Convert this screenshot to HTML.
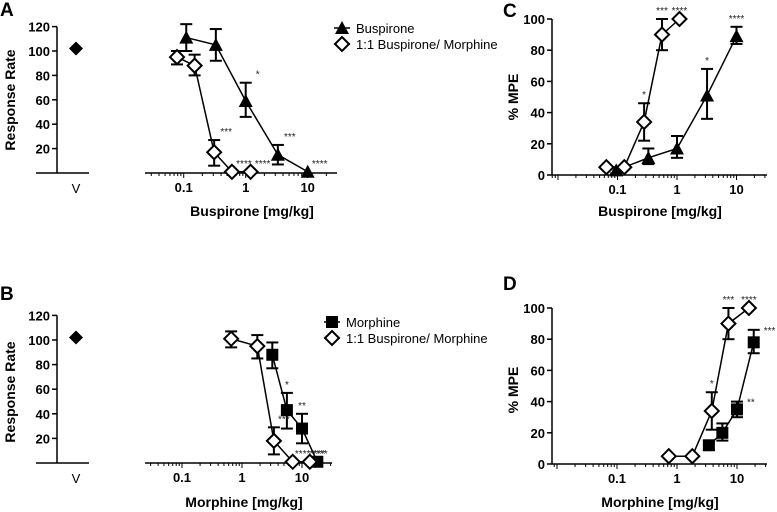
<!DOCTYPE html>
<html><head><meta charset="utf-8"><style>
html,body{margin:0;padding:0;background:#fff;}
svg{display:block;font-family:"Liberation Sans",Arial,sans-serif;}
.tick{font-size:13px;font-weight:bold;}
.title{font-size:14px;font-weight:bold;}
.star{font-size:10px;fill:#222;}
.leg{font-size:13px;}
</style></head><body>
<svg id="c" width="777" height="512" viewBox="0 0 777 512"></svg>
<script>
// ---------- data ----------
// Panel A
const aTriX=[0.11,0.33,1,3.3,10];
const aTriY=[111,105,59,15,1];
const aTriHi=[122,118,74,23,1];
const aTriLo=[100,92,46,7,1];
const aTriStars=["","","*","***","****"];
const aDiaX=[0.078,0.15,0.31,0.6,1.2];
const aDiaY=[95,88,17,1,1];
const aDiaHi=[100,97,27,1,1];
const aDiaLo=[89,80,6,1,1];
const aDiaStars=["","","***","****","****"];
const aVeh=[102];
// Panel B
const bSqX=[3.2,5.6,10,18];
const bSqY=[88,43,28,1];
const bSqHi=[98,57,40,1];
const bSqLo=[77,28,16,1];
const bSqStars=["","*","**","****"];
const bDiaX=[0.66,1.8,3.4,7,13.5];
const bDiaY=[101,95,18,1,1];
const bDiaHi=[107,104,29,1,1];
const bDiaLo=[94,85,7,1,1];
const bDiaStars=["","","***","****","****"];
const bVeh=[102];
// Panel C
const cTriX=[0.095,0.33,1,3.2,10];
const cTriY=[3,11,17,51,89];
const cTriHi=[5,17,25,68,95];
const cTriLo=[1,7,11,36,84];
const cTriStars=["","","","*","****"];
const cDiaX=[0.065,0.13,0.28,0.56,1.1];
const cDiaY=[5,5,34,90,100];
const cDiaHi=[5,5,46,100,100];
const cDiaLo=[5,5,22,80,100];
const cDiaStars=["","","*","***","****"];
// Panel D
const dSqX=[3.4,5.7,10,19];
const dSqY=[12,20,35,78];
const dSqHi=[15,26,40,86];
const dSqLo=[9,15,30,71];
const dSqStars=["","","**","***"];
const dDiaX=[0.73,1.8,3.8,7.2,15.8];
const dDiaY=[5,5,34,90,100];
const dDiaHi=[5,5,46,100,100];
const dDiaLo=[5,5,22,80,100];
const dDiaStars=["","","*","***","****"];
const rrTicks=[20,40,60,80,100,120];
const mpeTicks=[0,20,40,60,80,100];
const logTickVals=[0.1,1,10];
const logTickLabels=["0.1","1","10"];

// ---------- drawing ----------
const NS="http://www.w3.org/2000/svg";
const svg=document.getElementById('c');
function mk(tag,attrs,parent){const e=document.createElementNS(NS,tag);for(const k in attrs)e.setAttribute(k,attrs[k]);(parent||svg).appendChild(e);return e;}
function txt(s,x,y,cls,anchor,parent){const t=mk('text',{x:x,y:y,class:cls,'text-anchor':anchor||'middle'},parent);t.textContent=s;return t;}

function marker(g,type,x,y,name){
  let e;
  if(type==='tri') e=mk('polygon',{points:`${x},${y-7} ${x+7},${y+6} ${x-7},${y+6}`,fill:'#000'},g);
  else if(type==='sq') e=mk('rect',{x:x-6,y:y-6,width:12,height:12,fill:'#000'},g);
  else if(type==='dia') e=mk('polygon',{points:`${x},${y-7} ${x+7},${y} ${x},${y+7} ${x-7},${y}`,fill:'#fff',stroke:'#000','stroke-width':2},g);
  else e=mk('polygon',{points:`${x},${y-7} ${x+7},${y} ${x},${y+7} ${x-7},${y}`,fill:'#000'},g);
  
  
}

function panel(p){
  const g=mk('g',{});
  
  
  const sy=v=>p.y0-v*p.ppu;
  const sx=v=>p.x1+Math.log10(v)*p.dec;
  const L=txt(p.id,p.letterX,p.letterY,'',"start",g);
  L.setAttribute('style','font-size:19px;font-weight:bold');
  
  
  // y axis
  const yTop=sy(p.yTicks[p.yTicks.length-1]);
  const ya=mk('line',{x1:p.yAxisX,y1:yTop,x2:p.yAxisX,y2:p.y0,stroke:'#000','stroke-width':1.5},g);
  
  p.yTicks.forEach(v=>{
    mk('line',{x1:p.yAxisX-5,y1:sy(v),x2:p.yAxisX,y2:sy(v),stroke:'#000','stroke-width':1.5},g);
    const t=txt(String(v),p.yAxisX-7,sy(v)+5,'tick','end',g);
    
  });
  const yt=txt(p.yTitle,0,0,'title','middle',g);
  yt.setAttribute('transform',`translate(${p.yTitleX},${p.yTitleY}) rotate(-90)`);
  
  if(p.veh){
    mk('line',{x1:36,y1:p.y0,x2:89,y2:p.y0,stroke:'#000','stroke-width':1.5},g);
    const v=txt('V',76,p.y0+20,'leg','middle',g);
    
    p.veh.forEach(val=>marker(g,'vdia',76,sy(val),'vehicle-point'));
  }
  // x axis
  const xa=mk('line',{x1:p.xa0,y1:p.y0,x2:p.xa1,y2:p.y0,stroke:'#000','stroke-width':1.5},g);
  
  for(let d=-3;d<=2;d++){for(let m=1;m<=9;m++){const v=m*Math.pow(10,d);const x=sx(v);if(x<p.xa0||x>p.xa1)continue;
    mk('line',{x1:x,y1:p.y0,x2:x,y2:p.y0+(m===1?5:3),stroke:'#000','stroke-width':1},g);}}
  logTickVals.forEach((v,i)=>{const t=txt(logTickLabels[i],sx(v),p.y0+19,'tick','middle',g);
    });
  const xt=txt(p.xTitle,p.xTitleX,p.xTitleY,'title','middle',g);
  
  // series
  p.series.forEach(s=>{
    const sg=mk('g',{},g);
    
    const pts=s.x.map((v,i)=>[sx(v),sy(s.y[i])]);
    mk('polyline',{points:pts.map(q=>q.join(',')).join(' '),fill:'none',stroke:'#000','stroke-width':1.5},sg);
    s.x.forEach((v,i)=>{
      const x=sx(v),hi=sy(s.hi[i]),lo=sy(s.lo[i]);
      if(s.hi[i]!==s.lo[i]){
        mk('line',{x1:x,y1:hi,x2:x,y2:lo,stroke:'#000','stroke-width':2},sg);
        mk('line',{x1:x-6,y1:hi,x2:x+6,y2:hi,stroke:'#000','stroke-width':2},sg);
        mk('line',{x1:x-6,y1:lo,x2:x+6,y2:lo,stroke:'#000','stroke-width':2},sg);
      }
    });
    s.x.forEach((v,i)=>marker(sg,s.type,sx(v),sy(s.y[i]),'point-'+s.name));
    s.x.forEach((v,i)=>{
      if(!s.stars[i])return;
      let t;
      if(s.starSide) t=txt(s.stars[i],sx(v)+10,sy(s.hi[i])+4,'star','start',sg);
      else t=txt(s.stars[i],sx(v)+(s.starDx||0),sy(s.hi[i])-5+(s.starDy||0),'star','middle',sg);
      
    });
  });
  // legend
  if(p.legend){
    p.legend.forEach((l,i)=>{
      const y=p.legY+i*16;
      const lg=mk('g',{},g);
      
      mk('line',{x1:p.legX-8,y1:y,x2:p.legX+8,y2:y,stroke:'#000','stroke-width':1.5},lg);
      marker(lg,l.type,p.legX,y,'legend-marker');
      txt(l.label,p.legX+14,y+5,'leg','start',lg);
    });
  }
}

panel({id:'A',letterX:0,letterY:16,yAxisX:57,y0:173,ppu:1.22,yTicks:rrTicks,yTitle:'Response Rate',yTitleX:15,yTitleY:100,
  veh:aVeh,x1:245.7,dec:62,xa0:145,xa1:337,xTitle:'Buspirone [mg/kg]',xTitleX:252,xTitleY:216,
  series:[{name:'buspirone',type:'tri',x:aTriX,y:aTriY,hi:aTriHi,lo:aTriLo,stars:aTriStars,starDx:12,starDy:0},
          {name:'combo',type:'dia',x:aDiaX,y:aDiaY,hi:aDiaHi,lo:aDiaLo,stars:aDiaStars,starDx:12,starDy:0}],
  legX:342,legY:28,legend:[{type:'tri',label:'Buspirone'},{type:'dia',label:'1:1 Buspirone/ Morphine'}]});
panel({id:'B',letterX:0,letterY:300,yAxisX:57,y0:463,ppu:1.23,yTicks:rrTicks,yTitle:'Response Rate',yTitleX:15,yTitleY:392,
  veh:bVeh,x1:242,dec:60,xa0:145,xa1:332,xTitle:'Morphine [mg/kg]',xTitleX:244,xTitleY:507,
  series:[{name:'morphine',type:'sq',x:bSqX,y:bSqY,hi:bSqHi,lo:bSqLo,stars:bSqStars,starDx:0,starDy:0},
          {name:'combo',type:'dia',x:bDiaX,y:bDiaY,hi:bDiaHi,lo:bDiaLo,stars:bDiaStars,starDx:10,starDy:0}],
  legX:332,legY:322,legend:[{type:'sq',label:'Morphine'},{type:'dia',label:'1:1 Buspirone/ Morphine'}]});
panel({id:'C',letterX:503,letterY:17,yAxisX:552,y0:175,ppu:1.56,yTicks:mpeTicks,yTitle:'% MPE',yTitleX:518,yTitleY:97,
  x1:677,dec:59.5,xa0:552,xa1:767,xTitle:'Buspirone [mg/kg]',xTitleX:660,xTitleY:216,
  series:[{name:'buspirone',type:'tri',x:cTriX,y:cTriY,hi:cTriHi,lo:cTriLo,stars:cTriStars},
          {name:'combo',type:'dia',x:cDiaX,y:cDiaY,hi:cDiaHi,lo:cDiaLo,stars:cDiaStars}]});
panel({id:'D',letterX:503,letterY:290,yAxisX:552,y0:464,ppu:1.56,yTicks:mpeTicks,yTitle:'% MPE',yTitleX:518,yTitleY:390,
  x1:677,dec:60,xa0:552,xa1:767,xTitle:'Morphine [mg/kg]',xTitleX:660,xTitleY:507,
  series:[{name:'morphine',type:'sq',x:dSqX,y:dSqY,hi:dSqHi,lo:dSqLo,stars:dSqStars,starSide:true},
          {name:'combo',type:'dia',x:dDiaX,y:dDiaY,hi:dDiaHi,lo:dDiaLo,stars:dDiaStars}]});
</script>
</body></html>
